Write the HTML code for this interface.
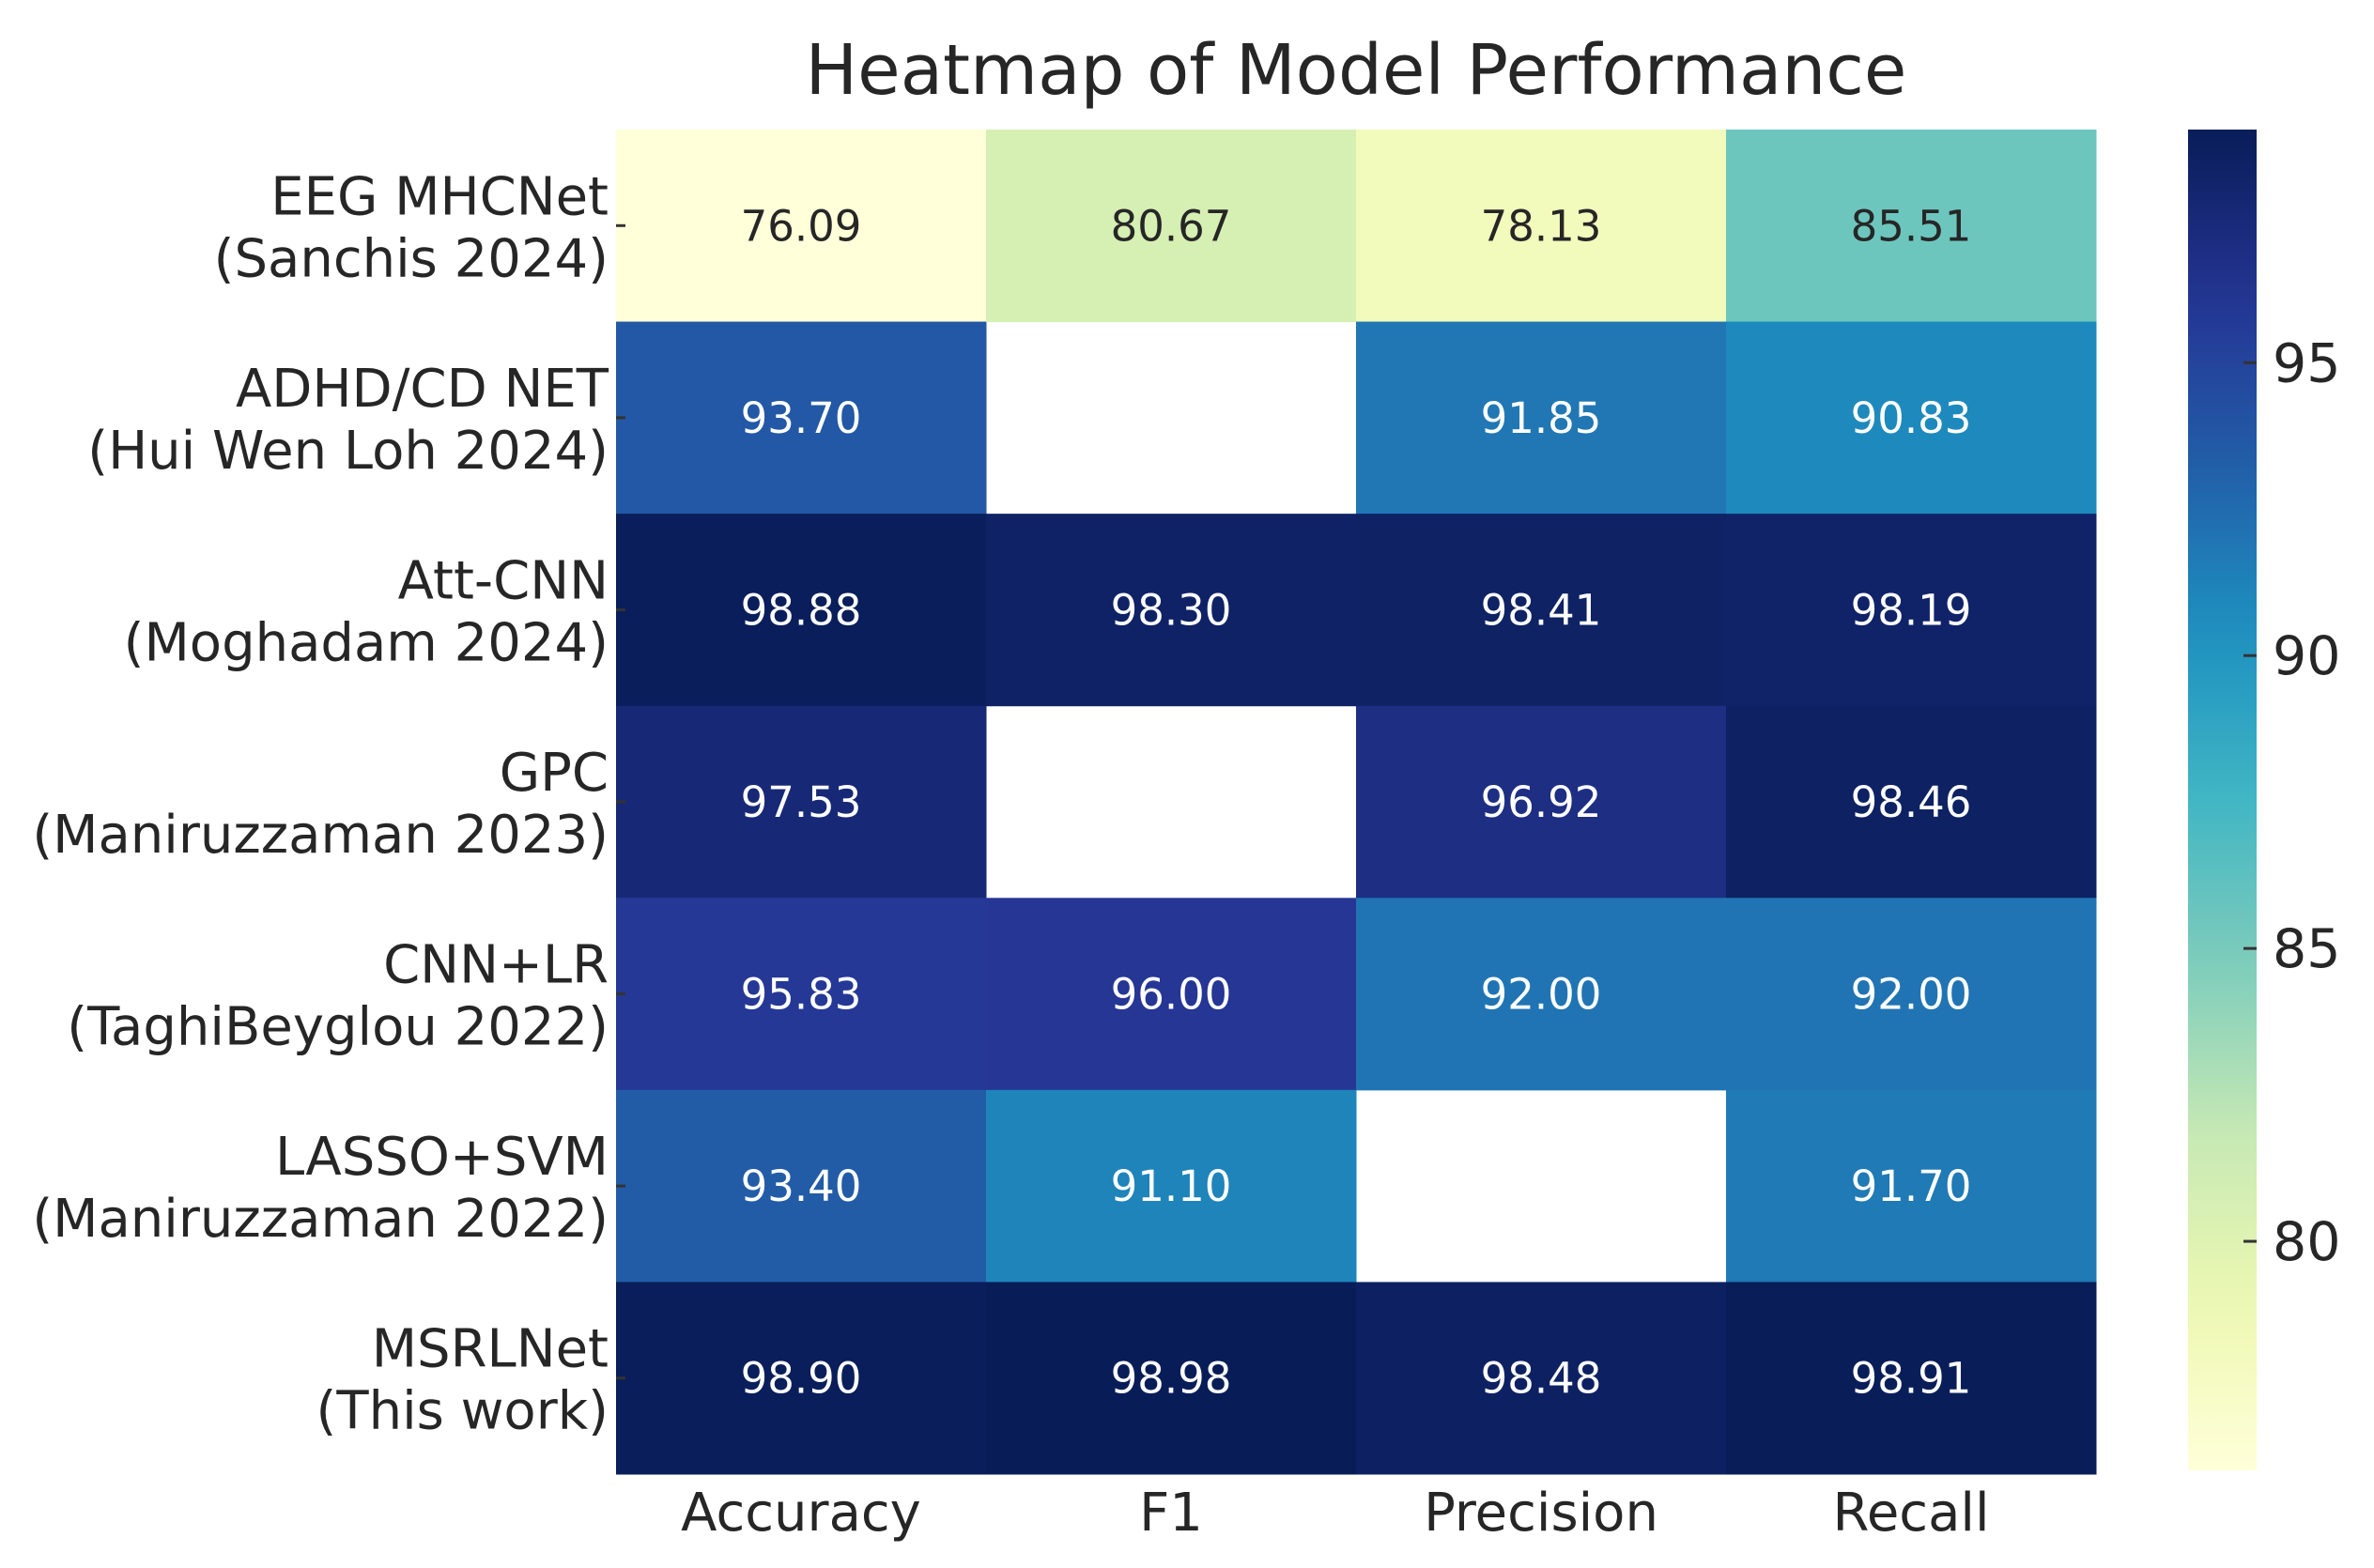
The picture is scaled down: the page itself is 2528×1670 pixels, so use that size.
<!DOCTYPE html>
<html><head><meta charset="utf-8"><style>
html,body{margin:0;padding:0;background:#fff;}
svg{display:block;}
text{font-family:"DejaVu Sans","Liberation Sans",sans-serif;}
</style></head><body>
<svg id="chart" width="2528" height="1670" viewBox="0 0 2528 1670" xmlns="http://www.w3.org/2000/svg">
<defs><linearGradient id="cbgrad" x1="0" y1="1" x2="0" y2="0"></linearGradient></defs>
<text x="1444" y="100" font-size="74" text-anchor="middle" fill="#262626">Heatmap of Model Performance</text>
<g id="cells"></g><g id="ylabels"></g><g id="xlabels"></g><g id="cbar"></g>
</svg>
<script>
const models = [["EEG MHCNet","(Sanchis 2024)"],["ADHD/CD NET","(Hui Wen Loh 2024)"],["Att-CNN","(Moghadam 2024)"],["GPC","(Maniruzzaman 2023)"],["CNN+LR","(TaghiBeyglou 2022)"],["LASSO+SVM","(Maniruzzaman 2022)"],["MSRLNet","(This work)"]];
const metrics = ["Accuracy","F1","Precision","Recall"];
const accuracy = [76.09,93.70,98.88,97.53,95.83,93.40,98.90];
const f1 = [80.67,null,98.30,null,96.00,91.10,98.98];
const precision = [78.13,91.85,98.41,96.92,92.00,null,98.48];
const recall = [85.51,90.83,98.19,98.46,92.00,91.70,98.91];
const cbTicks = [80,85,90,95];

const NS="http://www.w3.org/2000/svg";
const series=[accuracy,f1,precision,recall];
const all=series.flat().filter(v=>v!=null);
const vmin=Math.min(...all), vmax=Math.max(...all);
const X0=656,X1=2232,Y0=138,Y1=1570;
const cw=(X1-X0)/metrics.length, rh=(Y1-Y0)/models.length;
const xPos=i=>X0+i*cw, yPos=j=>Y0+j*rh;
const stops=["#ffffd9","#edf8b1","#c7e9b4","#7fcdbb","#41b6c4","#1d91c0","#225ea8","#253494","#081d58"];
function hex(h){return [1,3,5].map(i=>parseInt(h.substr(i,2),16));}
function cmap(t){t=Math.max(0,Math.min(1,t));const p=t*(stops.length-1);const i=Math.min(Math.floor(p),stops.length-2);const f=p-i;const a=hex(stops[i]),b=hex(stops[i+1]);return a.map((c,k)=>Math.round(c+(b[k]-c)*f));}
function el(tag,attrs,parent){const e=document.createElementNS(NS,tag);for(const k in attrs)e.setAttribute(k,attrs[k]);parent.appendChild(e);return e;}
const cells=document.getElementById('cells');
series.forEach((s,i)=>{s.forEach((v,j)=>{if(v==null)return;
 const c=cmap((v-vmin)/(vmax-vmin));
 const r=el('rect',{x:xPos(i),y:yPos(j),width:cw+0.5,height:rh+0.5,fill:`rgb(${c})`},cells);
 
 
 const lum=(0.2126*c[0]+0.7152*c[1]+0.0722*c[2])/255;
 const t=el('text',{x:xPos(i)+cw/2,y:yPos(j)+rh/2+16,'font-size':45,'text-anchor':'middle',fill:lum>0.5?'#262626':'#ffffff'},cells);
 t.textContent=v.toFixed(2);
 
 
});});
const yl=document.getElementById('ylabels');
models.forEach((m,j)=>{const cy=yPos(j)+rh/2;
 const t=el('text',{x:648,'font-size':56,'text-anchor':'end',fill:'#262626'},yl);
 
 
 const a=el('tspan',{x:648,y:cy-12},t);a.textContent=m[0];
 const b=el('tspan',{x:648,y:cy+54},t);b.textContent=m[1];
 const tk=el('line',{x1:656,x2:666,y1:cy,y2:cy,stroke:'#333','stroke-width':3},yl);
 
 
});
const xl=document.getElementById('xlabels');
metrics.forEach((m,i)=>{const t=el('text',{x:xPos(i)+cw/2,y:1630,'font-size':56,'text-anchor':'middle',fill:'#262626'},xl);t.textContent=m;
 
 
});
// colorbar
const g=document.getElementById('cbgrad');
for(let k=0;k<=20;k++){const c=cmap(k/20);el('stop',{offset:(k*5)+'%','stop-color':`rgb(${c})`},g);}
const cb=document.getElementById('cbar');
const CX=2330,CW=73,CY0=138,CY1=1566;
const cr=el('rect',{x:CX,y:CY0,width:CW,height:CY1-CY0,fill:'url(#cbgrad)'},cb);


const cbY=v=>CY1-(v-vmin)/(vmax-vmin)*(CY1-CY0);
cbTicks.forEach(v=>{const y=cbY(v);
 const l=el('line',{x1:CX+CW-14,x2:CX+CW,y1:y,y2:y,stroke:'#333','stroke-width':3},cb);
 
 
 const t=el('text',{x:2420,y:y+20,'font-size':57,fill:'#262626'},cb);t.textContent=v;
 
 
});
</script>
</body></html>
